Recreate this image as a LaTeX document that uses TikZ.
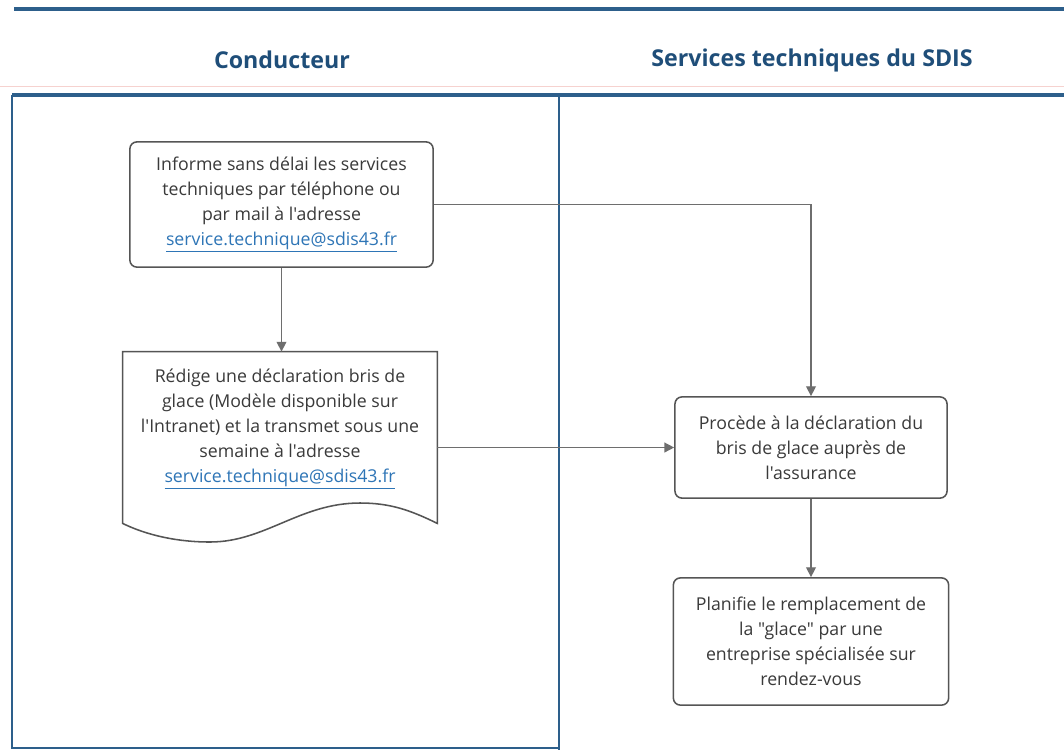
\documentclass[tikz,border=0pt]{standalone}
\usepackage{fontspec}
\setmainfont{Open Sans}[Ligatures=TeXOff]
\usetikzlibrary{arrows.meta,positioning}
\definecolor{laneblue}{HTML}{2D5F8B}
\definecolor{headblue}{HTML}{1F4E79}
\definecolor{boxgray}{HTML}{555555}
\definecolor{txtgray}{HTML}{3A3A3A}
\definecolor{linkblue}{HTML}{2E75B6}
\definecolor{flowgray}{HTML}{6E6E6E}
\definecolor{scanpink}{HTML}{F6D2CF}
\newcommand{\maillink}{\textcolor{linkblue}{\underline{service.technique@sdis43.fr}}}

\tikzset{
  lane/.style={draw=laneblue, line width=1.4pt},
  laneheavy/.style={draw=laneblue, line width=2.6pt},
  head/.style={text=headblue, font=\fontsize{16.5}{20}\selectfont\bfseries},
  body/.style={align=center, text=txtgray, font=\fontsize{12.6}{17.8}\selectfont},
  task/.style={body, draw=boxgray, line width=1.1pt, rounded corners=5pt, fill=white},
  flow/.style={draw=flowgray, line width=1pt, -{Triangle[length=7pt,width=7pt]}}
}

\begin{document}
\begin{tikzpicture}[x=0.025cm,y=-0.025cm]
  \fill[white] (0,0) rectangle (1064,750);
  \useasboundingbox (0,0) rectangle (1064,750);
  % swimlanes
  \draw[laneheavy] (14,9) -- (1064,9);
  \draw[scanpink, line width=0.6pt] (0,86) -- (1064,86);
  \draw[laneheavy] (12,95) -- (1064,95);
  \draw[lane] (12,95) -- (12,748) -- (559,748);
  \draw[lane] (559,95) -- (559,750);
  \node[head] (hcond) at (282,60) {Conducteur};
  \node[head] (hserv) at (812,60) {Services techniques du SDIS};
  % Conducteur
  \node[task, minimum width=7.58cm, minimum height=3.13cm] (inf) at (281.5,204.5)
    {Informe sans délai les services\\techniques par téléphone ou\\par mail à l'adresse\\\maillink};
  \node[minimum width=7.85cm, minimum height=4.28cm, inner sep=0pt] (decl) at (280,437.5) {};
  \draw[boxgray, line width=1.1pt, fill=white] (decl.north west) -- (decl.north east) -- (decl.south east)
    .. controls (410,510) and (390,503) .. (360,503)
    .. controls (300,503) and (265,542) .. (210,542)
    .. controls (170,542) and (140,532) .. (decl.south west) -- cycle;
  \node[body] (decltext) at (280,429)
    {Rédige une déclaration bris de\\glace (Modèle disponible sur\\l'Intranet) et la transmet sous une\\semaine à l'adresse\\\maillink};
  % Services techniques
  \node[task, minimum width=6.8cm, minimum height=2.53cm] (proc) at (811,447.5)
    {Procède à la déclaration du\\bris de glace auprès de\\l'assurance};
  \node[task, minimum width=6.88cm, minimum height=3.18cm] (plan) at (811,641.5)
    {Planifie le remplacement de\\la "glace" par une\\entreprise spécialisée sur\\rendez-vous};
  % flows
  \draw[flow] (inf.east) -| (proc.north);
  \draw[flow] (inf.south) -- (inf.south |- decl.north);
  \draw[flow] (decl.east |- proc.west) -- (proc.west);
  \draw[flow] (proc.south) -- (plan.north);
\end{tikzpicture}
\end{document}
